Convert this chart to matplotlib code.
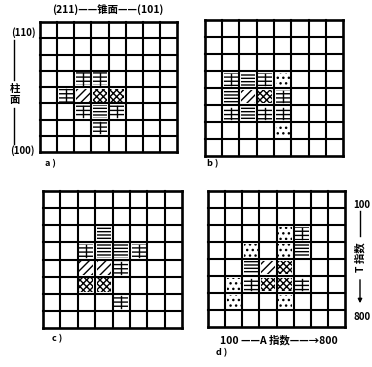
import matplotlib.pyplot as plt
from matplotlib.patches import Rectangle
from matplotlib.lines import Line2D

plt.rcParams['font.family'] = ['Noto Sans CJK SC', 'DejaVu Sans']
plt.rcParams['hatch.linewidth'] = 1.0

W, H = 372, 367
n_grid = 8

# cells with a pattern: (row from top, column from left, pattern)
cells_a = [(3, 2, 'feng'), (3, 3, 'feng'),
           (4, 1, 'feng'), (4, 2, 'diag'), (4, 3, 'cross'), (4, 4, 'cross'),
           (5, 2, 'feng'), (5, 3, 'horiz'), (5, 4, 'feng'),
           (6, 3, 'feng')]
cells_b = [(3, 1, 'feng'), (3, 2, 'horiz'), (3, 3, 'feng'), (3, 4, 'dots'),
           (4, 1, 'horiz'), (4, 2, 'diag'), (4, 3, 'cross'), (4, 4, 'feng'),
           (5, 1, 'feng'), (5, 2, 'horiz'), (5, 3, 'feng'), (5, 4, 'feng'),
           (6, 4, 'dots')]
cells_c = [(2, 3, 'horiz'),
           (3, 2, 'feng'), (3, 3, 'horiz'), (3, 4, 'horiz'), (3, 5, 'feng'),
           (4, 2, 'diag'), (4, 3, 'diag'), (4, 4, 'feng'),
           (5, 2, 'cross'), (5, 3, 'cross'),
           (6, 4, 'feng')]
cells_d = [(2, 4, 'dots'), (2, 5, 'feng'),
           (3, 2, 'dots'), (3, 4, 'dots'), (3, 5, 'horiz'),
           (4, 2, 'horiz'), (4, 3, 'diag'), (4, 4, 'cross'),
           (5, 1, 'dots'), (5, 2, 'feng'), (5, 3, 'cross'), (5, 4, 'cross'), (5, 5, 'feng'),
           (6, 1, 'dots'), (6, 4, 'dots')]

panel_names = ['a )', 'b )', 'c )', 'd )']

hatches = {'feng': '----', 'horiz': '-----', 'diag': '////',
           'cross': 'xxxxx', 'dots': '...'}

fig = plt.figure(figsize=(W / 100, H / 100), dpi=100)


def draw_panel(box, cells):
    x0, y0, x1, y1 = box
    ax = fig.add_axes([x0 / W, 1 - y1 / H, (x1 - x0) / W, (y1 - y0) / H])
    ax.set_xlim(0, n_grid)
    ax.set_ylim(n_grid, 0)
    ax.axis('off')
    for r, c, k in cells:
        ax.add_patch(Rectangle((c + 0.1, r + 0.1), 0.8, 0.8, facecolor='white',
                               edgecolor='black', linewidth=0, hatch=hatches[k]))
        if k == 'feng':
            # the "丰" look: one upright stroke through the horizontal lines
            ax.plot([c + 0.5, c + 0.5], [r + 0.15, r + 0.85], color='black', lw=1.0)
    for i in range(n_grid + 1):
        lw = 1.9 if i in (0, n_grid) else 1.5
        ax.axhline(i, color='black', lw=lw, clip_on=False)
        ax.axvline(i, color='black', lw=lw, clip_on=False)
    return ax


draw_panel((40, 22, 177, 152), cells_a)
draw_panel((205, 20, 343, 156), cells_b)
draw_panel((43, 191, 182, 328), cells_c)
draw_panel((208, 191, 345, 327), cells_d)


def ftext(x, y, s, **kw):
    kw.setdefault('fontsize', 7)
    kw.setdefault('fontweight', 'bold')
    fig.text(x / W, 1 - y / H, s, ha='center', va='center', **kw)


def fline(xs, ys, **kw):
    fig.add_artist(Line2D([x / W for x in xs], [1 - y / H for y in ys],
                          color='black', lw=1.0, **kw))


# panel a labels
ftext(108, 10, '(211)——锥面——(101)', fontsize=7.5)
ftext(23, 33, '(110)')
ftext(22, 151, '(100)')
fline([14, 14], [40, 80])
ftext(15, 89, '柱', fontsize=7.5)
ftext(15, 100, '面', fontsize=7.5)
fline([14, 14], [108, 144])

# panel d labels
ftext(362, 205, '100')
fline([360, 360], [211, 236])
ftext(360, 257, 'T 指数', rotation=90, fontsize=7.5)
fig.add_artist(plt.Annotation('', xy=(360 / W, 1 - 306 / H), xytext=(360 / W, 1 - 277 / H),
                              xycoords='figure fraction', textcoords='figure fraction',
                              arrowprops=dict(arrowstyle='-|>', color='black', lw=1.0,
                                              mutation_scale=6)))
ftext(362, 317, '800')
ftext(279, 340, '100 ——A 指数——→800', fontsize=7.5)

# panel letters
ftext(50, 164, panel_names[0], fontsize=6.5)
ftext(213, 164, panel_names[1], fontsize=6.5)
ftext(57, 339, panel_names[2], fontsize=6.5)
ftext(222, 353, panel_names[3], fontsize=6.5)

fig.savefig('out.png', dpi=100, facecolor='white')
